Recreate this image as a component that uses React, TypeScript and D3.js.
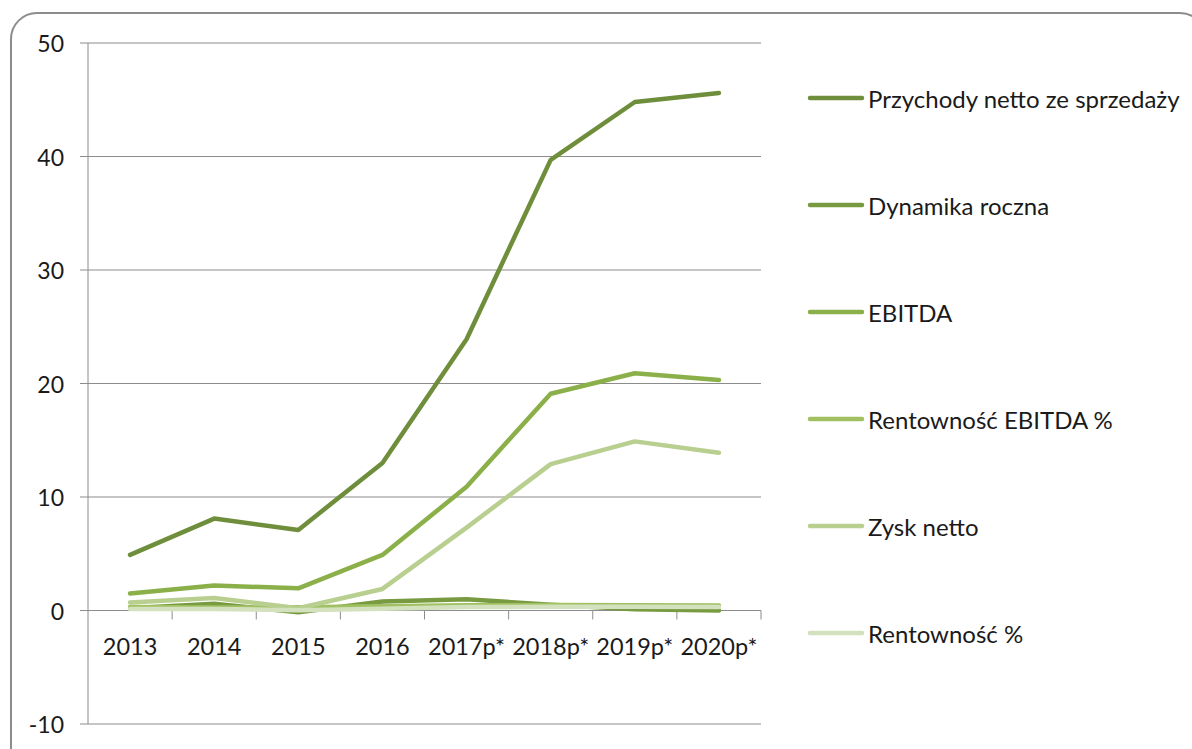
import React from 'react';
import * as d3 from 'd3';

const years = ['2013', '2014', '2015', '2016', '2017p*', '2018p*', '2019p*', '2020p*'];

const przychody = [4.9, 8.1, 7.1, 13.0, 23.9, 39.7, 44.8, 45.6];
const dynamika = [0.2, 0.6, -0.15, 0.8, 1.0, 0.5, 0.1, 0.0];
const ebitda = [1.5, 2.2, 1.95, 4.9, 10.9, 19.1, 20.9, 20.3];
const rentEbitda = [0.3, 0.27, 0.28, 0.38, 0.46, 0.48, 0.47, 0.45];
const zysk = [0.7, 1.1, 0.2, 1.9, 7.3, 12.9, 14.9, 13.9];
const rent = [0.14, 0.13, 0.03, 0.15, 0.3, 0.33, 0.33, 0.3];

const yTicks = [-10, 0, 10, 20, 30, 40, 50];

const series = [
  { name: 'Przychody netto ze sprzedaży', values: przychody, color: '#6f8e3c' },
  { name: 'Dynamika roczna', values: dynamika, color: '#789a40' },
  { name: 'EBITDA', values: ebitda, color: '#8bb04a' },
  { name: 'Rentowność EBITDA %', values: rentEbitda, color: '#a0c062' },
  { name: 'Zysk netto', values: zysk, color: '#b8cf90' },
  { name: 'Rentowność %', values: rent, color: '#d3e1bf' },
];

const W = 1192;
const H = 749;
const left = 88;
const right = 761;
const top = 43;
const bottom = 724;
const font = 'Lato, "Open Sans", sans-serif';

export default function App() {
  const x = d3.scaleBand().domain(years).range([left, right]);
  const y = d3.scaleLinear().domain([-10, 50]).range([bottom, top]);
  const cx = (i: number) => (x(years[i]) as number) + x.bandwidth() / 2;
  const line = d3
    .line<number>()
    .x((_, i) => cx(i))
    .y((d) => y(d));

  const legendY = d3.scaleLinear().domain([0, 5]).range([98, 633]);
  const axisY = y(0);

  return (
    <svg width={W} height={H} style={{ position: 'absolute', left: 0, top: 0, background: '#fff' }}>
      <rect x={11} y={13} width={1195} height={760} rx={26} ry={26} fill="#fff" stroke="#8c8c8c" strokeWidth={2} />

      {yTicks.map((t) => (
        <g key={t}>
          <line x1={left - 8} x2={right} y1={y(t)} y2={y(t)} stroke="#8c8c8c" strokeWidth={1} />
          <text x={64} y={y(t)} textAnchor="end" dominantBaseline="central" fontFamily={font} fontSize={23} fill="#1a1a1a">
            {t}
          </text>
        </g>
      ))}
      <line x1={left} x2={left} y1={top} y2={bottom} stroke="#8c8c8c" strokeWidth={1} />

      {years.map((yr, i) => (
        <g key={yr}>
          <line
            x1={(x(yr) as number) + x.bandwidth()}
            x2={(x(yr) as number) + x.bandwidth()}
            y1={axisY}
            y2={axisY + 9}
            stroke="#8c8c8c"
          />
          <text x={cx(i)} y={655} textAnchor="middle" fontFamily={font} fontSize={23.5} fill="#1a1a1a">
            {yr}
          </text>
        </g>
      ))}

      {series.map((s) => (
        <path
          key={s.name}
          d={line(s.values) || ''}
          fill="none"
          stroke={s.color}
          strokeWidth={4.5}
          strokeLinejoin="round"
          strokeLinecap="round"
        />
      ))}

      {series.map((s, i) => (
        <g key={s.name} transform={`translate(0,${legendY(i)})`}>
          <line x1={810} x2={862} y1={0} y2={0} stroke={s.color} strokeWidth={4.5} strokeLinecap="round" />
          <text x={868} y={0} dominantBaseline="central" fontFamily={font} fontSize={24} fill="#1a1a1a">
            {s.name}
          </text>
        </g>
      ))}
    </svg>
  );
}
